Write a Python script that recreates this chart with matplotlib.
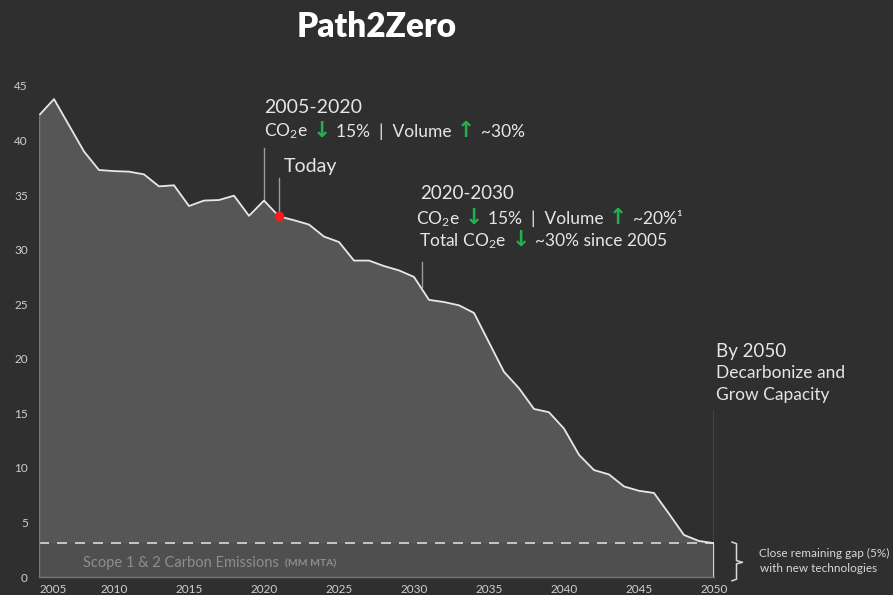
import numpy as np
import matplotlib
matplotlib.use("Agg")
import matplotlib.pyplot as plt
from matplotlib.transforms import offset_copy

# data (MM MTA)
years = list(range(2005, 2051))
emissions = [42.3, 43.8, 41.4, 39.0, 37.3, 37.2, 37.15, 36.9, 35.8, 35.9,
             34.0, 34.5, 34.55, 34.95, 33.1, 34.5, 33.05, 32.7, 32.3, 31.2,
             30.7, 29.0, 29.0, 28.5, 28.1, 27.5, 25.4, 25.2, 24.9, 24.2,
             21.5, 18.8, 17.3, 15.4, 15.1, 13.6, 11.2, 9.8, 9.4, 8.3,
             7.9, 7.7, 5.8, 3.85, 3.3, 3.1]
gap_level = 3.1
today_year = 2021
x_ticks = [2005, 2010, 2015, 2020, 2025, 2030, 2035, 2040, 2045, 2050]
y_ticks = [0, 5, 10, 15, 20, 25, 30, 35, 40, 45]

BG = "#2f2f2f"
FILL = "#565656"
LINE = "#e8e8e8"
TXT = "#e6e6e6"
GREEN = "#22b14c"
FAM = ["Lato", "DejaVu Sans"]

plt.rcParams["font.family"] = FAM
plt.rcParams["mathtext.default"] = "regular"

fig = plt.figure(figsize=(8.93, 5.95), dpi=100, facecolor=BG)
ax = fig.add_axes([39 / 893, 18 / 595, 675 / 893, 491 / 595])
ax.set_facecolor(BG)
ax.set_xlim(2005, 2050)
ax.set_ylim(0, 45)

em = np.array(emissions)
ax.fill_between(years, em, color=FILL, lw=0)
ax.fill_between(years, np.minimum(em, gap_level), color="#4f4f4f", lw=0)
ax.plot(years, em, color=LINE, lw=1.3, zorder=3)
ax.plot([2050, 2050], [em[-1], 0], color=LINE, lw=1.3, zorder=3)
ax.plot([2005, 2005], [0, em[0]], color="#777777", lw=1.0, zorder=3)
ax.plot([2005, 2050], [0, 0], color="#777777", lw=1.0, zorder=3, clip_on=False)
ax.plot([2005, 2050], [gap_level, gap_level], color="#d8d8d8", lw=1.2,
        ls=(0, (6, 4.8)), zorder=2)

for s in ax.spines.values():
    s.set_visible(False)
ax.set_xticks(x_ticks)
ax.set_yticks(y_ticks)
ax.tick_params(length=0, colors="#cfcfcf", labelsize=8.5)
ax.tick_params(axis="y", pad=8)
ax.tick_params(axis="x", pad=5)
for lbl in ax.get_xticklabels()[:1]:
    lbl.set_horizontalalignment("left")

# today marker
today_val = emissions[years.index(today_year)]
ax.plot([today_year], [today_val], "o", color="#ff1a1a", ms=6, zorder=5)

# leader lines
lc = "#9a9a9a"
ax.plot([2020, 2020], [emissions[years.index(2020)], 39.3], color=lc, lw=1)
ax.plot([today_year, today_year], [today_val + 0.4, 36.6], color=lc, lw=1)
ax.plot([2030.5, 2030.5], [26.6, 28.9], color=lc, lw=1)
ax.plot([2050, 2050], [gap_level, 15.3], color=lc, lw=1)

fig.text(377 / 893, 0.938, "Path2Zero", color="white", fontsize=24,
         fontweight="heavy", ha="center", va="baseline")

renderer = fig.canvas.get_renderer()


def runs(x, y, pieces, size):
    # draw coloured pieces one after another on the same baseline
    trans = ax.transData
    space = 0.3 * size * fig.dpi / 72
    for s, c, arrow in pieces:
        t = ax.text(x, y, s, color=c, fontsize=size * 1.25 if arrow else size,
                    transform=trans,
                    fontweight="bold" if arrow else "normal",
                    family=["DejaVu Sans"] if arrow else FAM,
                    ha="left", va="baseline")
        w = t.get_window_extent(renderer).width
        trans = offset_copy(trans, x=w + space, units="dots")


ax.text(2020.0, 42.5, "2005-2020", color=TXT, fontsize=14, va="baseline")
runs(2020.0, 40.36, [("CO$_2$e", TXT, False), ("↓", GREEN, True),
                     ("15%  |  Volume", TXT, False), ("↑", GREEN, True),
                     ("~30%", TXT, False)], 12.5)
ax.text(2021.3, 37.15, "Today", color=TXT, fontsize=14, va="baseline")

ax.text(2030.4, 34.6, "2020-2030", color=TXT, fontsize=13.5, va="baseline")
runs(2030.13, 32.36, [("CO$_2$e", TXT, False), ("↓", GREEN, True),
                      ("15%  |  Volume", TXT, False), ("↑", GREEN, True),
                      ("~20%¹", TXT, False)], 12.5)
runs(2030.35, 30.3, [("Total CO$_2$e", TXT, False), ("↓", GREEN, True),
                     ("~30% since 2005", TXT, False)], 12.5)

ax.text(2050.13, 20.2, "By 2050", color=TXT, fontsize=13.5, va="baseline")
ax.text(2050.13, 18.2, "Decarbonize and", color=TXT, fontsize=12.5, va="baseline")
ax.text(2050.13, 16.2, "Grow Capacity", color=TXT, fontsize=12.5, va="baseline")

ax.text(2007.95, 0.95, "Scope 1 & 2 Carbon Emissions", color="#8e8e8e",
        fontsize=10.5, va="baseline")
ax.text(2021.4, 0.95, "(MM MTA)", color="#8e8e8e", fontsize=7.5,
        fontweight="bold", va="baseline")

# bracket for the remaining gap
bx = [2051.2, 2051.5, 2051.5, 2051.9, 2051.5, 2051.5, 2051.2]
by = [gap_level + 0.1, gap_level - 0.05, 1.5, 1.35, 1.2, -0.2, -0.35]
ax.plot(bx, by, color="#d8d8d8", lw=1.1, clip_on=False)
ax.text(2053.0, 1.8, "Close remaining gap (5%)", color="#d8d8d8", fontsize=8.5,
        va="baseline")
ax.text(2053.1, 0.49, "with new technologies", color="#d8d8d8", fontsize=8.5,
        va="baseline")

fig.savefig("out.png", dpi=100, facecolor=BG)
